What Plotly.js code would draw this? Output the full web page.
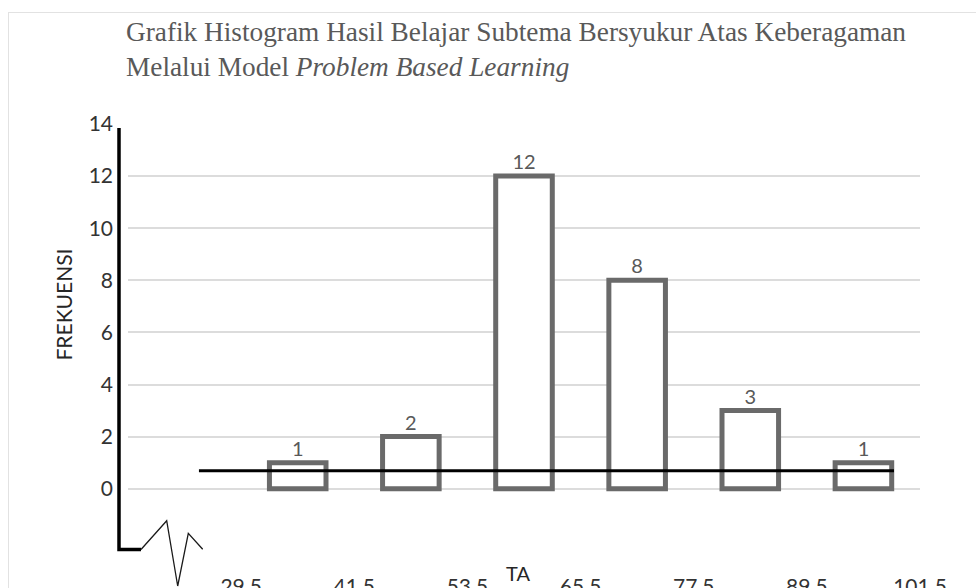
<!DOCTYPE html>
<html>
<head>
<meta charset="utf-8">
<script src="https://cdn.plot.ly/plotly-3.0.1.min.js"></script>
<style>
  html, body { margin: 0; padding: 0; background: #fff; overflow: hidden; }
  #wrap { position: relative; width: 976px; height: 588px; }
  #chart { position: absolute; left: 0; top: 0; width: 976px; height: 588px; }
  #frame { position: absolute; left: 8px; top: 12px; width: 1200px; height: 800px;
           border-left: 1px solid #e2e2e2; border-top: 1px solid #e2e2e2; pointer-events: none; }
</style>
</head>
<body>
<div id="wrap">
  <div id="chart"></div>
  <div id="frame"></div>
</div>
<script>
// ---- data ----
const binEdges = ['29.5', '41.5', '53.5', '65.5', '77.5', '89.5', '101.5'];
const frequencies = [1, 2, 12, 8, 3, 1];
const yTicks = [0, 2, 4, 6, 8, 10, 12, 14];
const titleLine1 = 'Grafik Histogram Hasil Belajar Subtema Bersyukur Atas Keberagaman';
const titleLine2 = 'Melalui Model <i>Problem Based Learning</i>';
const yTitle = 'FREKUENSI';
const xTitleFragment = 'TA';

// ---- geometry helpers (plot area in pixels) ----
const W = 976, H = 588;
const M = { l: 128, r: 56, t: 124, b: 36 };
const PW = W - M.l - M.r, PH = H - M.t - M.b;
const px = x => ((x - M.l) / PW).toFixed(5);
const py = y => ((H - M.b - y) / PH).toFixed(5);

const barX = frequencies.map((_, i) => i);
const edgeX = binEdges.map((_, i) => i - 0.5);

const fontSans = 'Lato, "Open Sans", sans-serif';

const trace = {
  type: 'bar',
  x: barX,
  y: frequencies,
  width: 0.5,
  text: frequencies.map(String),
  textposition: 'outside',
  cliponaxis: false,
  textfont: { family: fontSans, size: 20, color: '#595959' },
  marker: { color: '#ffffff', line: { color: '#6a6a6a', width: 5 } },
  hoverinfo: 'skip'
};

const layout = {
  width: W, height: H,
  margin: { l: M.l, r: M.r, t: M.t, b: M.b, pad: 0 },
  paper_bgcolor: '#ffffff',
  plot_bgcolor: '#ffffff',
  showlegend: false,
  title: {
    text: titleLine1 + '<br>' + titleLine2,
    x: 126 / W, xref: 'container', xanchor: 'left',
    y: 1 - 41 / H, yref: 'container', yanchor: 'top',
    font: { family: '"Liberation Serif", "Times New Roman", serif', size: 27.3, color: '#595959' }
  },
  xaxis: {
    range: [-1.5, 5.5],
    showgrid: false, zeroline: false, showline: false,
    tickmode: 'array', tickvals: edgeX, ticktext: binEdges,
    ticks: '', ticklabelstandoff: 20,
    tickfont: { family: fontSans, size: 21, color: '#333333' },
    fixedrange: true
  },
  yaxis: {
    range: [-2.43, 14],
    tickmode: 'array', tickvals: yTicks,
    showgrid: true, gridcolor: '#dcdcdc', gridwidth: 2,
    zeroline: false, showline: false,
    ticks: '', ticklabelstandoff: 14,
    tickfont: { family: fontSans, size: 21, color: '#333333' },
    automargin: false,
    fixedrange: true
  },
  annotations: [
    { text: yTitle, xref: 'paper', yref: 'paper', x: px(62.5), y: py(305),
      xanchor: 'center', yanchor: 'middle', textangle: -90, showarrow: false,
      font: { family: fontSans, size: 21, color: '#262626' } },
    { text: xTitleFragment, xref: 'paper', yref: 'paper', x: px(518), y: py(573),
      xanchor: 'center', yanchor: 'middle', showarrow: false,
      font: { family: fontSans, size: 20, color: '#262626' } }
  ],
  shapes: [
    // hand-drawn vertical axis with corner
    { type: 'path', xref: 'paper', yref: 'paper', layer: 'above',
      path: `M ${px(119)},${py(128)} L ${px(119)},${py(549.5)} L ${px(141)},${py(549.5)}`,
      line: { color: '#000000', width: 3.5 } },
    // axis-break zigzag
    { type: 'path', xref: 'paper', yref: 'paper', layer: 'above',
      path: `M ${px(141)},${py(549.5)} L ${px(166.7)},${py(520.7)} L ${px(177.7)},${py(586)} L ${px(188.3)},${py(533.3)} L ${px(202.7)},${py(549.3)}`,
      line: { color: '#1a1a1a', width: 1.3 } },
    // hand-drawn horizontal line across bars
    { type: 'line', xref: 'x', yref: 'y', layer: 'above',
      x0: -0.873, x1: 5.27, y0: 0.69, y1: 0.69,
      line: { color: '#000000', width: 3 } }
  ]
};

Plotly.newPlot('chart', [trace], layout, { displayModeBar: false, staticPlot: true });
</script>
</body>
</html>
